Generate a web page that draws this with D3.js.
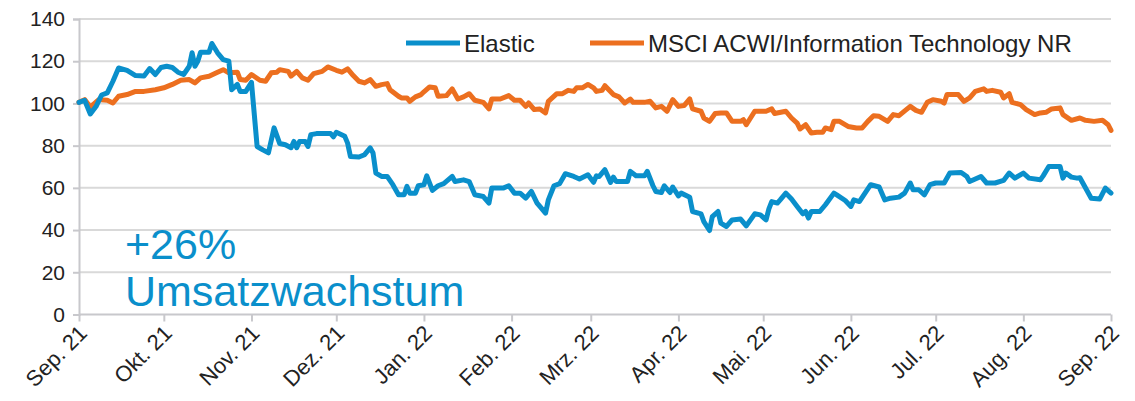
<!DOCTYPE html>
<html><head><meta charset="utf-8">
<script src="https://cdn.jsdelivr.net/npm/d3@7"></script>
<style>body{margin:0;background:#fff;}svg{display:block;font-family:"Liberation Sans",Arial,sans-serif;}</style>
</head><body>
<svg id="chart" width="1135" height="401"></svg>
<script>
const seriesNames = ["Elastic", "MSCI ACWI/Information Technology NR"];
const yTicks = [0, 20, 40, 60, 80, 100, 120, 140];
const monthLabels = ["Sep. 21","Okt. 21","Nov. 21","Dez. 21","Jan. 22","Feb. 22","Mrz. 22","Apr. 22","Mai. 22","Jun. 22","Jul. 22","Aug. 22","Sep. 22"];
const annotation = ["+26%", "Umsatzwachstum"];

const elasticSeries = [
["2021-09-01",100.5],["2021-09-03",101.5],["2021-09-05",95],["2021-09-07",98.5],["2021-09-09",104],["2021-09-11",105],["2021-09-13",110.5],["2021-09-15",116.8],["2021-09-18",115.7],["2021-09-21",113.2],["2021-09-24",113],["2021-09-26",116.5],["2021-09-28",113.7],["2021-09-30",117],
["2021-10-02",117.6],["2021-10-04",117],["2021-10-06",114.8],["2021-10-08",113.7],["2021-10-10",117.6],["2021-10-11",124],["2021-10-12",117.6],["2021-10-13",120],["2021-10-14",124.3],["2021-10-17",124.3],["2021-10-18",128.4],["2021-10-20",124],["2021-10-22",120.8],["2021-10-24",120],["2021-10-25",106.5],["2021-10-27",109],["2021-10-28",105.7],["2021-10-30",105.7],
["2021-11-01",110],["2021-11-03",79.6],["2021-11-05",78],["2021-11-07",76.6],["2021-11-09",88.4],["2021-11-11",81],["2021-11-13",80.4],["2021-11-15",79],["2021-11-16",82],["2021-11-17",79],["2021-11-18",82],["2021-11-20",82],["2021-11-21",79.6],["2021-11-22",85.2],["2021-11-24",85.7],["2021-11-29",85.7],["2021-11-30",84.2],
["2021-12-01",86.3],["2021-12-04",84.4],["2021-12-05",81.2],["2021-12-06",74.9],["2021-12-09",74.6],["2021-12-11",75.7],["2021-12-13",78.9],["2021-12-14",76.5],["2021-12-15",67],["2021-12-17",65.4],["2021-12-19",65.4],["2021-12-21",61.5],["2021-12-23",56.7],["2021-12-25",56.7],["2021-12-26",60.7],["2021-12-27",57.5],["2021-12-29",57.5],["2021-12-30",61],
["2022-01-01",61.5],["2022-01-02",65.7],["2022-01-04",58.8],["2022-01-06",61],["2022-01-08",62],["2022-01-11",65.4],["2022-01-12",63],["2022-01-15",63.8],["2022-01-17",63],["2022-01-19",56.7],["2022-01-22",55.9],["2022-01-24",52.8],["2022-01-25",59.9],["2022-01-29",59.9],["2022-01-31",61],
["2022-02-02",57.5],["2022-02-04",57.5],["2022-02-06",55.1],["2022-02-08",58.3],["2022-02-10",52.8],["2022-02-11",51.2],["2022-02-13",48],["2022-02-14",54.3],["2022-02-16",61],["2022-02-18",62],["2022-02-20",66.7],["2022-02-23",65.4],["2022-02-25",64.2],["2022-02-28",66.2],
["2022-03-02",62.6],["2022-03-03",65.7],["2022-03-04",65.4],["2022-03-06",68.6],["2022-03-08",62.6],["2022-03-09",65.1],["2022-03-10",63],["2022-03-14",63],["2022-03-15",67.8],["2022-03-17",65.7],["2022-03-20",65.7],["2022-03-21",67.8],["2022-03-23",61],["2022-03-24",58.3],["2022-03-26",57.8],["2022-03-27",61],["2022-03-29",57.8],["2022-03-30",60.4],
["2022-04-01",56.2],["2022-04-02",57.5],["2022-04-05",55.6],["2022-04-06",48.8],["2022-04-09",47.7],["2022-04-10",44],["2022-04-12",39.8],["2022-04-13",46.4],["2022-04-15",48.8],["2022-04-16",43.3],["2022-04-18",41.7],["2022-04-20",44.8],["2022-04-23",45.2],["2022-04-25",42],["2022-04-28",47.7],["2022-04-30",47.2],
["2022-05-02",44.8],["2022-05-03",50],["2022-05-04",53.5],["2022-05-06",52.8],["2022-05-07",54.3],["2022-05-09",57.5],["2022-05-11",54.7],["2022-05-13",51.2],["2022-05-15",47.7],["2022-05-16",48.8],["2022-05-17",45.7],["2022-05-18",48.8],["2022-05-21",48.8],["2022-05-23",52],["2022-05-26",57.5],["2022-05-27",56.7],["2022-05-30",54],
["2022-06-01",51.2],["2022-06-02",54.3],["2022-06-04",53.5],["2022-06-06",57.5],["2022-06-08",61.5],["2022-06-11",60.4],["2022-06-13",54.3],["2022-06-15",55.1],["2022-06-18",55.6],["2022-06-20",57.5],["2022-06-22",62.3],["2022-06-23",59.1],["2022-06-25",59.1],["2022-06-27",56.7],["2022-06-29",61.5],
["2022-07-01",62.3],["2022-07-04",62.3],["2022-07-06",67],["2022-07-10",67.3],["2022-07-12",65.4],["2022-07-13",63],["2022-07-15",64.2],["2022-07-17",65.4],["2022-07-19",62.3],["2022-07-22",62.3],["2022-07-25",63.5],["2022-07-27",67],["2022-07-29",64.6],
["2022-08-01",67],["2022-08-03",64.6],["2022-08-07",63.8],["2022-08-08",65.7],["2022-08-10",70.1],["2022-08-14",70.1],["2022-08-15",64.6],["2022-08-16",67],["2022-08-18",65.1],["2022-08-20",64.6],["2022-08-21",64.8],["2022-08-23",59.9],["2022-08-25",55.1],["2022-08-28",54.7],["2022-08-30",59.9],["2022-09-01",57.5]
];

const msciSeries = [
["2021-09-01",100.5],["2021-09-03",101.8],["2021-09-05",98.3],["2021-09-08",101.8],["2021-09-11",101.5],["2021-09-13",100.2],["2021-09-15",103.4],["2021-09-18",104.2],["2021-09-21",105.7],["2021-09-24",105.7],["2021-09-28",106.5],
["2021-10-01",107.4],["2021-10-04",109],["2021-10-07",111],["2021-10-10",111.3],["2021-10-12",109.7],["2021-10-14",112.1],["2021-10-17",112.9],["2021-10-20",114.8],["2021-10-22",116],["2021-10-24",114.5],["2021-10-27",114.8],["2021-10-28",111.3],["2021-10-30",111],
["2021-11-01",113.7],["2021-11-04",111],["2021-11-06",110.5],["2021-11-08",114.5],["2021-11-10",114.8],["2021-11-11",116],["2021-11-14",115.2],["2021-11-15",112.9],["2021-11-17",115.2],["2021-11-19",112.1],["2021-11-21",111],["2021-11-23",114.1],["2021-11-26",115.2],["2021-11-28",117.3],
["2021-12-01",115.7],["2021-12-03",114.8],["2021-12-05",116.4],["2021-12-07",113.2],["2021-12-09",110.5],["2021-12-11",109.7],["2021-12-13",111.3],["2021-12-15",108.1],["2021-12-17",108.9],["2021-12-19",109.4],["2021-12-20",106.5],["2021-12-23",103.4],["2021-12-24",102.6],["2021-12-26",102.6],["2021-12-27",101],["2021-12-29",103.1],["2021-12-31",104.2],
["2022-01-01",105.5],["2022-01-03",107.8],["2022-01-05",107.4],["2022-01-06",103.4],["2022-01-09",103.7],["2022-01-11",106.9],["2022-01-13",102.1],["2022-01-15",103.1],["2022-01-17",104.6],["2022-01-19",101.5],["2022-01-22",100.5],["2022-01-24",97.4],["2022-01-25",102.1],["2022-01-28",102.1],["2022-01-31",103.7],
["2022-02-02",101.5],["2022-02-04",101.5],["2022-02-06",98.6],["2022-02-07",100.2],["2022-02-09",97.1],["2022-02-11",97.4],["2022-02-13",95.5],["2022-02-14",101],["2022-02-17",104.6],["2022-02-19",104.6],["2022-02-21",106.2],["2022-02-23",105.7],["2022-02-24",107.4],["2022-02-26",107.4],["2022-02-28",109],
["2022-03-02",107.4],["2022-03-03",105.7],["2022-03-05",106.2],["2022-03-06",108.4],["2022-03-09",104.2],["2022-03-11",103.1],["2022-03-13",100.2],["2022-03-15",102.1],["2022-03-16",100.5],["2022-03-20",100.5],["2022-03-22",101],["2022-03-24",97.9],["2022-03-26",98.6],["2022-03-28",96.3],["2022-03-30",101.8],
["2022-04-01",98.6],["2022-04-03",99],["2022-04-05",102.1],["2022-04-06",97.4],["2022-04-09",96.3],["2022-04-10",93.1],["2022-04-12",91.5],["2022-04-14",95.2],["2022-04-16",95.5],["2022-04-18",95.5],["2022-04-20",91.5],["2022-04-23",91.5],["2022-04-24",92.3],["2022-04-25",89.9],["2022-04-28",96.3],
["2022-05-02",96.3],["2022-05-04",97.4],["2022-05-05",95.2],["2022-05-09",96.3],["2022-05-11",93.1],["2022-05-13",90.7],["2022-05-14",87.9],["2022-05-16",89.9],["2022-05-18",86],["2022-05-20",86.3],["2022-05-22",86.3],["2022-05-23",88.4],["2022-05-25",87.6],["2022-05-26",91.5],["2022-05-28",91.5],["2022-05-31",89.1],
["2022-06-03",88.4],["2022-06-05",88.4],["2022-06-07",91.5],["2022-06-09",94.2],["2022-06-11",93.9],["2022-06-14",91.5],["2022-06-16",94.7],["2022-06-18",94.2],["2022-06-22",98.6],["2022-06-24",96.7],["2022-06-26",95.8],["2022-06-28",100.5],["2022-06-30",101.8],
["2022-07-03",101],["2022-07-04",100.2],["2022-07-05",104.2],["2022-07-09",104.2],["2022-07-11",101],["2022-07-13",102.6],["2022-07-15",105.7],["2022-07-18",106.9],["2022-07-19",105.7],["2022-07-21",106.2],["2022-07-24",105.3],["2022-07-25",102.6],["2022-07-27",104.6],["2022-07-28",100.5],["2022-07-31",99.4],
["2022-08-02",97.1],["2022-08-05",94.7],["2022-08-07",95.5],["2022-08-09",95.8],["2022-08-11",97.4],["2022-08-14",97.9],["2022-08-15",94.7],["2022-08-18",92],["2022-08-21",93.1],["2022-08-23",92],["2022-08-26",91.5],["2022-08-29",92],["2022-08-31",89.9],["2022-09-01",87.2]
];

const colors = ["#0a8fcb", "#ec6f1f"];
const parse = d3.timeParse("%Y-%m-%d");
const svg = d3.select("#chart");
const x = d3.scaleTime().domain([parse("2021-09-01"), parse("2022-09-01")]).range([79, 1111]);
const y = d3.scaleLinear().domain([0, 140]).range([314.5, 19]);

// gridlines
svg.append("g").selectAll("line").data(yTicks.filter(d => d > 0)).join("line")
  .attr("x1", 79).attr("x2", 1111).attr("y1", d => y(d)).attr("y2", d => y(d))
  .attr("stroke", "#d9d9d9").attr("stroke-width", 2);

// y axis
const yAxis = svg.append("g").attr("transform", "translate(79,0)")
  .call(d3.axisLeft(y).tickValues(yTicks).tickSize(6).tickPadding(8));
yAxis.select(".domain").attr("stroke", "#c8c8cc").attr("stroke-width", 2);
yAxis.selectAll(".tick line").attr("stroke", "#c8c8cc").attr("stroke-width", 2);
yAxis.selectAll(".tick text").attr("font-size", 21).attr("fill", "#222").attr("font-family", "Liberation Sans, Arial, sans-serif");

// x axis
const months = d3.timeMonth.range(parse("2021-09-01"), d3.timeDay.offset(parse("2022-09-01"), 1));
const xAxis = svg.append("g").attr("transform", "translate(0,314.5)")
  .call(d3.axisBottom(x).tickValues(months).tickSize(7).tickFormat((d, i) => monthLabels[i]));
xAxis.select(".domain").attr("stroke", "#c8c8cc").attr("stroke-width", 2).attr("d", "M79,0H1111");
xAxis.selectAll(".tick line").attr("stroke", "#c8c8cc").attr("stroke-width", 2);
xAxis.selectAll(".tick text")
  .attr("font-size", 22).attr("fill", "#222").attr("font-family", "Liberation Sans, Arial, sans-serif")
  .attr("text-anchor", "end").attr("dy", null).attr("y", 0)
  .attr("transform", "translate(9,20) rotate(-45)");

// lines
const line = d3.line().x(d => x(parse(d[0]))).y(d => y(d[1])).curve(d3.curveLinear);
[msciSeries, elasticSeries].forEach((s, i) => {
  svg.append("path").datum(s).attr("d", line).attr("fill", "none")
    .attr("stroke", i === 0 ? colors[1] : colors[0]).attr("stroke-width", 5)
    .attr("stroke-linejoin", "round").attr("stroke-linecap", "round");
});

// legend
const legendItems = [{name: seriesNames[0], color: colors[0], x: 406}, {name: seriesNames[1], color: colors[1], x: 590}];
const lg = svg.append("g");
legendItems.forEach(it => {
  lg.append("line").attr("x1", it.x).attr("x2", it.x + 54).attr("y1", 43).attr("y2", 43)
    .attr("stroke", it.color).attr("stroke-width", 5);
  lg.append("text").attr("x", it.x + 58).attr("y", 52).attr("font-size", 24).attr("fill", "#222").text(it.name);
});

// annotation
svg.append("text").attr("x", 125).attr("y", 259).attr("font-size", 43).attr("fill", colors[0]).text(annotation[0]);
svg.append("text").attr("x", 125).attr("y", 306).attr("font-size", 43).attr("fill", colors[0]).text(annotation[1]);
</script>
</body></html>
